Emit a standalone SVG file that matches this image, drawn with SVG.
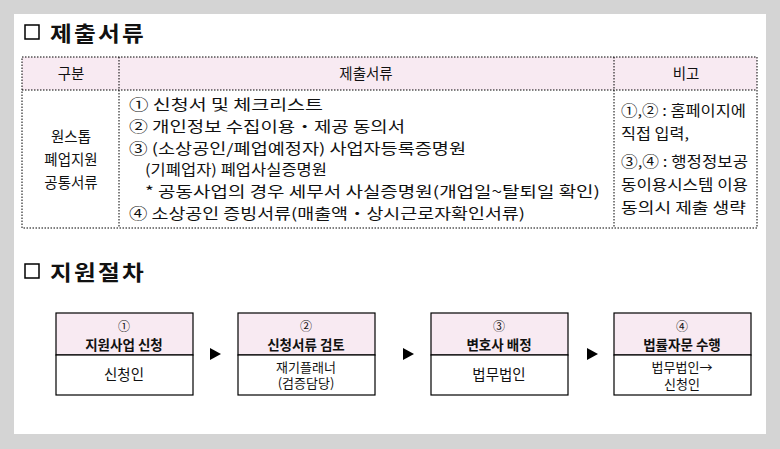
<svg xmlns="http://www.w3.org/2000/svg" width="780" height="449" viewBox="0 0 780 449">
<style>
text{font-family:"Noto Sans CJK KR","Noto Sans",sans-serif;fill:#111}
.t{font-size:21px;font-weight:bold;letter-spacing:2px}
.c{font-size:14.5px}
.d{fill:none;stroke:#000;stroke-width:1;stroke-dasharray:1.5 1.5}
.bx{fill:#fff;stroke:#000;stroke-width:1.2}
.hd{fill:#f8eaf2;stroke:#000;stroke-width:1.2}
.b{font-size:13.5px;font-weight:bold}
.s{font-size:12px}
.u{font-size:13px}
.m{text-anchor:middle}
</style>
<rect width="780" height="449" fill="#d4d4d4"/>
<rect x="14" y="14" width="752" height="420" fill="#fff"/>
<rect x="25" y="25" width="14" height="14" fill="none" stroke="#000" stroke-width="1.5"/>
<text class="t" x="50" y="41" textLength="96" lengthAdjust="spacingAndGlyphs">제출서류</text>
<g id="table">
<rect x="22" y="57" width="735" height="33" fill="#f8eaf2"/>
<rect class="d" x="22" y="57" width="735" height="171"/>
<line class="d" x1="22" y1="90" x2="757" y2="90"/>
<line class="d" x1="119" y1="57" x2="119" y2="228"/>
<line class="d" x1="614" y1="57" x2="614" y2="228"/>
<text class="c m" x="71" y="79" font-size="15">구분</text>
<text class="c m" x="366" y="79" font-size="15">제출서류</text>
<text class="c m" x="686" y="79" font-size="15">비고</text>
<text class="c m" x="71" y="142">원스톱</text>
<text class="c m" x="71" y="165">폐업지원</text>
<text class="c m" x="71" y="188">공통서류</text>
<text class="c" x="129" y="110" textLength="194" lengthAdjust="spacingAndGlyphs">① 신청서 및 체크리스트</text>
<text class="c" x="129" y="132" textLength="276" lengthAdjust="spacingAndGlyphs">② 개인정보 수집이용・제공 동의서</text>
<text class="c" x="129" y="154" textLength="337" lengthAdjust="spacingAndGlyphs">③ (소상공인/폐업예정자) 사업자등록증명원</text>
<text class="c" x="145" y="175" textLength="182" lengthAdjust="spacingAndGlyphs">(기폐업자) 폐업사실증명원</text>
<text class="c" x="145" y="197" textLength="455" lengthAdjust="spacingAndGlyphs">* 공동사업의 경우 세무서 사실증명원(개업일~탈퇴일 확인)</text>
<text class="c" x="129" y="219" textLength="396" lengthAdjust="spacingAndGlyphs">④ 소상공인 증빙서류(매출액・상시근로자확인서류)</text>
<text class="c" x="621" y="116" textLength="125" lengthAdjust="spacingAndGlyphs">①,② : 홈페이지에</text>
<text class="c" x="621" y="139" textLength="68" lengthAdjust="spacingAndGlyphs">직접 입력,</text>
<text class="c" x="621" y="167" textLength="127" lengthAdjust="spacingAndGlyphs">③,④ : 행정정보공</text>
<text class="c" x="621" y="190" textLength="127" lengthAdjust="spacingAndGlyphs">동이용시스템 이용</text>
<text class="c" x="621" y="213" textLength="125" lengthAdjust="spacingAndGlyphs">동의시 제출 생략</text>
</g>
<rect x="25" y="264" width="14" height="14" fill="none" stroke="#000" stroke-width="1.5"/>
<text class="t" x="50" y="280" textLength="96" lengthAdjust="spacingAndGlyphs">지원절차</text>
<g id="s1"><rect class="hd" x="56" y="313" width="137" height="42"/><rect class="bx" x="56" y="355" width="137" height="40"/>
<text class="s m" x="124" y="331">①</text><text class="b m" x="124" y="350">지원사업 신청</text><text class="c m" x="124" y="380">신청인</text></g>
<g id="s2"><rect class="hd" x="238" y="313" width="137" height="42"/><rect class="bx" x="238" y="355" width="137" height="40"/>
<text class="s m" x="306" y="331">②</text><text class="b m" x="306" y="350">신청서류 검토</text><text class="u m" x="306" y="372">재기플래너</text><text class="u m" x="306" y="388">(검증담당)</text></g>
<g id="s3"><rect class="hd" x="431" y="313" width="137" height="42"/><rect class="bx" x="431" y="355" width="137" height="40"/>
<text class="s m" x="499" y="331">③</text><text class="b m" x="499" y="350">변호사 배정</text><text class="c m" x="499" y="380">법무법인</text></g>
<g id="s4"><rect class="hd" x="614" y="313" width="137" height="42"/><rect class="bx" x="614" y="355" width="137" height="40"/>
<text class="s m" x="682" y="331">④</text><text class="b m" x="682" y="350">법률자문 수행</text><text class="u m" x="682" y="372">법무법인→</text><text class="u m" x="682" y="389">신청인</text></g>
<g id="connectors" fill="#000">
<polygon points="210,348 221,354 210,360"/>
<polygon points="403,348 414,354 403,360"/>
<polygon points="587,348 598,354 587,360"/>
</g>
</svg>
